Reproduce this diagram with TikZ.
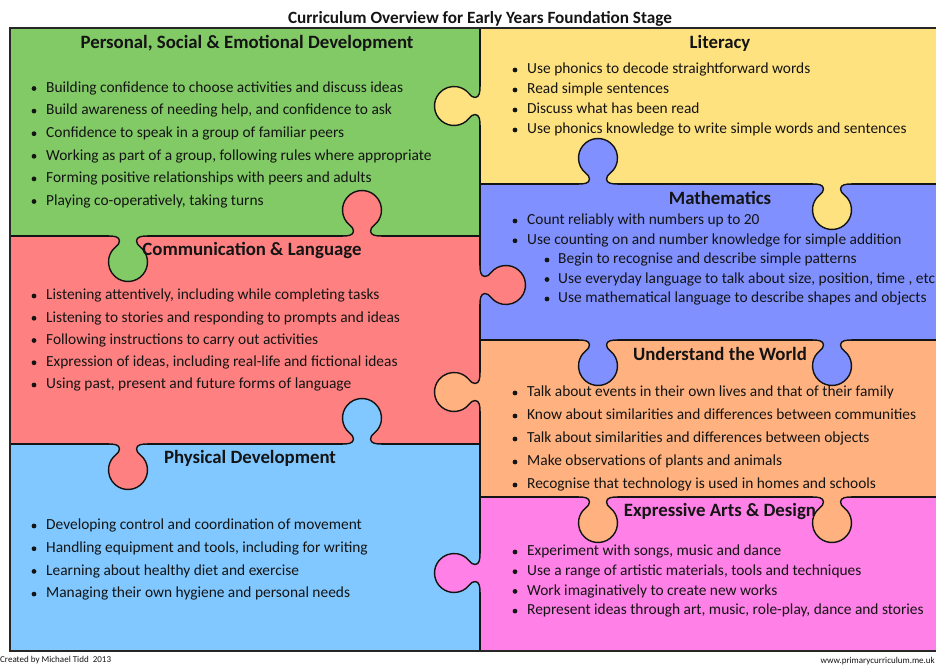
\documentclass[tikz,border=0pt]{standalone}
\usepackage{fontspec}
\setmainfont{Carlito}
\definecolor{cgreen}{RGB}{130,202,102}
\definecolor{cyellow}{RGB}{255,226,128}
\definecolor{cred}{RGB}{255,128,128}
\definecolor{cmath}{RGB}{128,144,255}
\definecolor{corange}{RGB}{255,178,128}
\definecolor{cblue}{RGB}{128,200,255}
\definecolor{cpink}{RGB}{255,128,230}
\definecolor{ink}{RGB}{20,20,20}
\tikzset{
  pzline/.style={draw=ink, line width=1.4pt, line join=round, line cap=round},
  piece/.style={pzline},
  head/.style={font=\fontsize{18.8}{20}\selectfont\bfseries, text=ink, inner sep=0pt, anchor=mid},
  bul/.style={font=\fontsize{15.4}{17}\selectfont, text=ink, inner sep=0pt, anchor=mid west},
  dot/.style={fill=ink}
}
\newcommand{\knob}[4]{%
  \begin{scope}[shift={(#1,#2)}, rotate=#3]
    \fill[#4] (-19,-1.8) -- (-19,0) to[out=0,in=-90] (-8.5,5) to[out=90,in=-40] (-12.53,11.06)
      arc[start angle=230,end angle=-50,radius=19.5] to[out=220,in=90] (8.5,5)
      to[out=-90,in=180] (19,0) -- (19,-1.8) -- cycle;
    \draw[pzline] (-19,0) to[out=0,in=-90] (-8.5,5) to[out=90,in=-40] (-12.53,11.06)
      arc[start angle=230,end angle=-50,radius=19.5] to[out=220,in=90] (8.5,5)
      to[out=-90,in=180] (19,0);
  \end{scope}}
\newcommand{\items}[5]{% bullet x, text x, first Y, step, list
  \foreach \t [count=\i] in {#5} {
    \fill[dot] (#1,{#3-(\i-1)*#4+1.5}) circle[radius=2.4];
    \node[bul] at (#2,{#3-(\i-1)*#4}) {\t};
  }}
\begin{document}
\begin{tikzpicture}[x=1pt,y=1pt]
\clip (0,0) rectangle (936,666);
\fill[white] (0,0) rectangle (936,666);
% pieces
\path[piece, fill=cgreen]  (10,638) rectangle (480,430);
\path[piece, fill=cred]    (10,430) rectangle (480,222);
\path[piece, fill=cblue]   (10,222) rectangle (480,15);
\path[piece, fill=cyellow] (480,638) rectangle (950,482);
\path[piece, fill=cmath]   (480,482) rectangle (950,326);
\path[piece, fill=corange] (480,326) rectangle (950,169);
\path[piece, fill=cpink]   (480,169) rectangle (950,15);
% knobs
\knob{480}{560}{90}{cyellow}
\knob{362}{430}{0}{cred}
\knob{128}{430}{180}{cgreen}
\knob{362}{222}{0}{cblue}
\knob{128}{222}{180}{cred}
\knob{598}{482}{0}{cmath}
\knob{832}{482}{180}{cyellow}
\knob{480}{381}{-90}{cred}
\knob{598}{326}{180}{cmath}
\knob{832}{326}{180}{cmath}
\knob{480}{274}{90}{corange}
\knob{598}{169}{180}{corange}
\knob{832}{169}{180}{corange}
\knob{480}{93}{90}{cpink}
% frame
\draw[draw=black!85, line width=2pt] (950,638) -- (10,638) -- (10,15) -- (950,15);
% title
\node[font=\fontsize{17.2}{19}\selectfont\bfseries, text=ink, inner sep=0pt] (title) at (480,647) {Curriculum Overview for Early Years Foundation Stage};
% headings
\node[head] (psed) at (247,620) {Personal, Social \& Emotional Development};
\node[head] (lit) at (720,620) {Literacy};
\node[head] (cl) at (252,413) {Communication \& Language};
\node[head] (math) at (720,464) {Mathematics};
\node[head] (uw) at (720,308) {Understand the World};
\node[head] (ead) at (720,152) {Expressive Arts \& Design};
\node[head] (pd) at (250,205) {Physical Development};
% bullets
\items{34}{46}{576}{22.6}{Building confidence to choose activities and discuss ideas, {Build awareness of needing help, and confidence to ask}, Confidence to speak in a group of familiar peers, {Working as part of a group, following rules where appropriate}, Forming positive relationships with peers and adults, {Playing co-operatively, taking turns}}
\items{515}{527}{594.5}{20}{Use phonics to decode straightforward words, Read simple sentences, Discuss what has been read, Use phonics knowledge to write simple words and sentences}
\items{34}{46}{368.5}{22.25}{{Listening attentively, including while completing tasks}, Listening to stories and responding to prompts and ideas, Following instructions to carry out activities, {Expression of ideas, including real-life and fictional ideas}, {Using past, present and future forms of language}}
\items{515}{527}{443.5}{19.8}{Count reliably with numbers up to 20, Use counting on and number knowledge for simple addition}
\items{547}{558}{404.5}{19.5}{Begin to recognise and describe simple patterns, {Use everyday language to talk about size, position, time , etc}, Use mathematical language to describe shapes and objects}
\items{515}{527}{271.5}{23}{Talk about events in their own lives and that of their family, Know about similarities and differences between communities, Talk about similarities and differences between objects, Make observations of plants and animals, Recognise that technology is used in homes and schools}
\items{515}{527}{112.5}{19.7}{{Experiment with songs, music and dance}, {Use a range of artistic materials, tools and techniques}, Work imaginatively to create new works, {Represent ideas through art, music, role-play, dance and stories}}
\items{34}{46}{138.5}{22.7}{Developing control and coordination of movement, {Handling equipment and tools, including for writing}, Learning about healthy diet and exercise, Managing their own hygiene and personal needs}
% footers
\node[font=\fontsize{9}{10}\selectfont, text=ink, inner sep=0pt, anchor=west] (credit) at (0,6) {Created by Michael Tidd\ \ 2013};
\node[font=\fontsize{9}{10}\selectfont, text=ink, inner sep=0pt, anchor=east] (web) at (935,5) {www.primarycurriculum.me.uk};
\end{tikzpicture}
\end{document}
